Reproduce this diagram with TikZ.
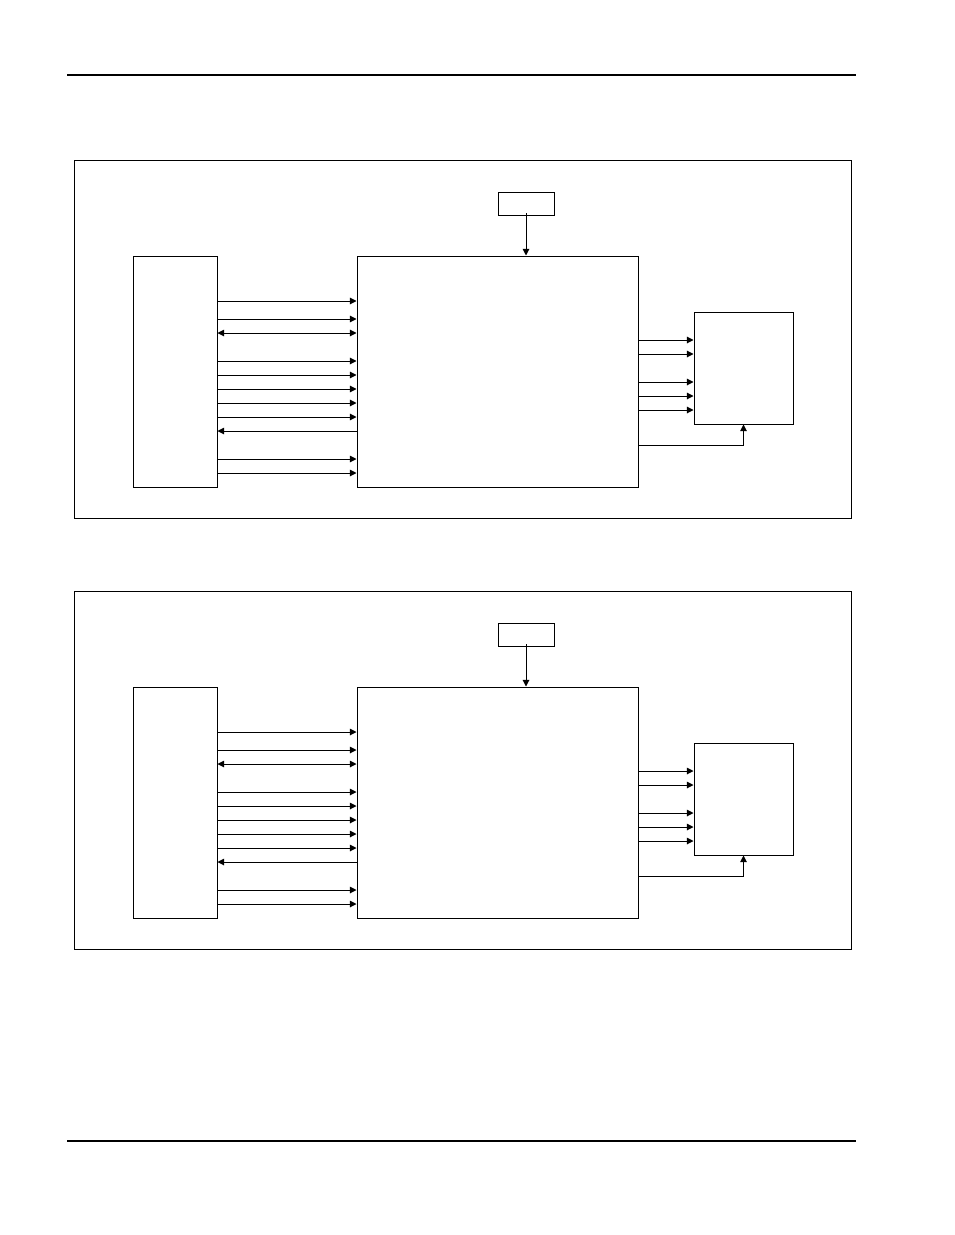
\documentclass[tikz,border=0pt]{standalone}
\usetikzlibrary{arrows.meta,fit}
\begin{document}
\begin{tikzpicture}[x=0.75pt,y=-0.75pt,line width=0.75pt,
  box/.style={draw,inner sep=0pt,line width=0.75pt},
  arr/.style={-{Triangle[length=5pt,width=5pt]}},
  darr/.style={{Triangle[length=5pt,width=5pt]}-{Triangle[length=5pt,width=5pt]}},
  rulestyle/.style={line width=2pt}]
\useasboundingbox (0,0) rectangle (954,1235);
\coordinate (RA1) at (67,75);
\coordinate (RA2) at (856,75);
\coordinate (RB1) at (67,1141);
\coordinate (RB2) at (856,1141);
\draw[rulestyle] (RA1) -- (RA2);
\draw[rulestyle] (RB1) -- (RB2);
\foreach \o/\s in {0/a,431/b}{
  \node[box,fit={(74,{160+\o}) (851,{518+\o})}] (F\s) {};
  \node[box,fit={(133,{256+\o}) (217,{487+\o})}] (L\s) {};
  \node[box,fit={(357,{256+\o}) (638,{487+\o})}] (M\s) {};
  \node[box,fit={(498,{192+\o}) (554,{215+\o})}] (T\s) {};
  \node[box,fit={(694,{312+\o}) (793,{424+\o})}] (R\s) {};
  \draw[arr] ([yshift=1.8pt]T\s.south) -- (M\s.north -| T\s.south);
  \foreach \y [evaluate=\y as \yy using \y+\o] in {301,319,361,375,389,403,417,459,473}{
    \draw[arr] (L\s.east |- 0,\yy) -- (M\s.west |- 0,\yy);
  }
  \pgfmathsetmacro{\yd}{333+\o}
  \draw[darr] (L\s.east |- 0,\yd) -- (M\s.west |- 0,\yd);
  \pgfmathsetmacro{\yl}{431+\o}
  \draw[arr] (M\s.west |- 0,\yl) -- (L\s.east |- 0,\yl);
  \foreach \y [evaluate=\y as \yy using \y+\o] in {340,354,382,396,410}{
    \draw[arr] (M\s.east |- 0,\yy) -- (R\s.west |- 0,\yy);
  }
  \pgfmathsetmacro{\yb}{445+\o}
  \draw[arr] (M\s.east |- 0,\yb) -| (R\s.south);
}
\end{tikzpicture}
\end{document}
